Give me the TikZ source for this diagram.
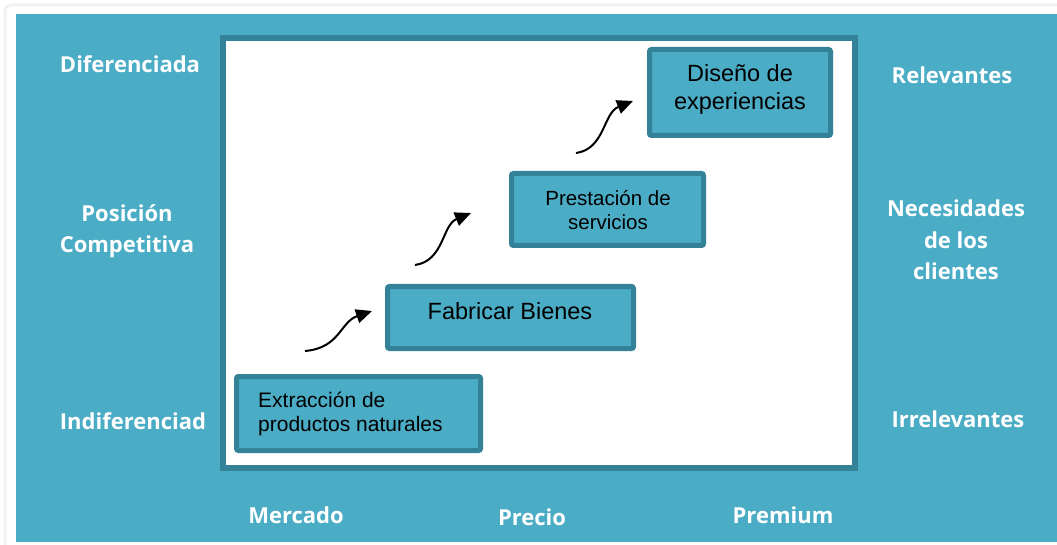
\documentclass[tikz,border=0pt]{standalone}
\usepackage{fontspec}
\setmainfont{Liberation Sans}
\newfontfamily\labelfont{Open Sans}
\usetikzlibrary{arrows.meta}
\definecolor{tealfill}{RGB}{75,172,198}
\definecolor{tealedge}{RGB}{52,130,152}
\begin{document}
\begin{tikzpicture}[x=1pt,y=-1pt,
  lab/.style={text=white,align=center,inner sep=0pt,
    font=\labelfont\bfseries\fontsize{22}{31.5}\selectfont},
  stepbox/.style={draw=tealedge,fill=tealfill,line width=5pt,rounded corners=2pt},
  boxtext/.style={text=black,inner sep=0pt},
  curvy/.style={line width=2pt,-{Triangle[length=16pt,width=14pt]}}]
\useasboundingbox (0,0) rectangle (1057,545);
% frame shadow and background
\draw[black!5,line width=3pt,rounded corners=6pt] (5,545) |- (1060,5);
\fill[tealfill] (16,14) rectangle (1057,542);
% white panel
\node[draw=tealedge,fill=white,line width=6pt,minimum width=632pt,minimum height=430pt,inner sep=0pt] (panel) at (539,253) {};
% boxes
\node[stepbox,minimum width=244pt,minimum height=74pt] (b1) at (358.5,413.5) {};
\node[stepbox,minimum width=246pt,minimum height=62pt] (b2) at (510.5,317.5) {};
\node[stepbox,minimum width=192pt,minimum height=72pt] (b3) at (607.5,209.5) {};
\node[stepbox,minimum width=181pt,minimum height=86pt] (b4) at (740,92.5) {};
% box texts
\node[boxtext,align=left,anchor=west,font=\fontsize{21}{24}\selectfont] (t1) at (258,414) {Extracción de\\productos naturales};
\node[boxtext,font=\fontsize{23.5}{28}\selectfont] (t2) at (510,311) {Fabricar Bienes};
\node[boxtext,align=center,font=\fontsize{20.5}{24}\selectfont] (t3) at (608,210) {Prestación de\\servicios};
\node[boxtext,align=center,font=\fontsize{23.5}{28}\selectfont] (t4) at (740,89) {Diseño de\\experiencias};
% arrows
\coordinate (a1s) at (305,351); \coordinate (a1e) at (372,311);
\coordinate (a2s) at (415,265); \coordinate (a2e) at (471,213);
\coordinate (a3s) at (576,153); \coordinate (a3e) at (633,101);
\draw[curvy] (a1s) .. controls (340,348) and (340,322) .. (a1e);
\draw[curvy] (a2s) .. controls (444,261) and (442,225) .. (a2e);
\draw[curvy] (a3s) .. controls (605,149) and (603,113) .. (a3e);
% side labels
\node[lab] (dif) at (130,64) {Diferenciada};
\node[lab] (pos) at (127,231) {Posición\\Competitiva};
\node[lab] (ind) at (133,421) {Indiferenciad};
\node[lab] (rel) at (952,75) {Relevantes};
\node[lab] (nec) at (956,240) {Necesidades\\de los\\clientes};
\node[lab] (irr) at (958,419) {Irrelevantes};
\node[lab] (mer) at (296,515) {Mercado};
\node[lab] (pre) at (532,517) {Precio};
\node[lab] (prm) at (783,515) {Premium};
\end{tikzpicture}
\end{document}
